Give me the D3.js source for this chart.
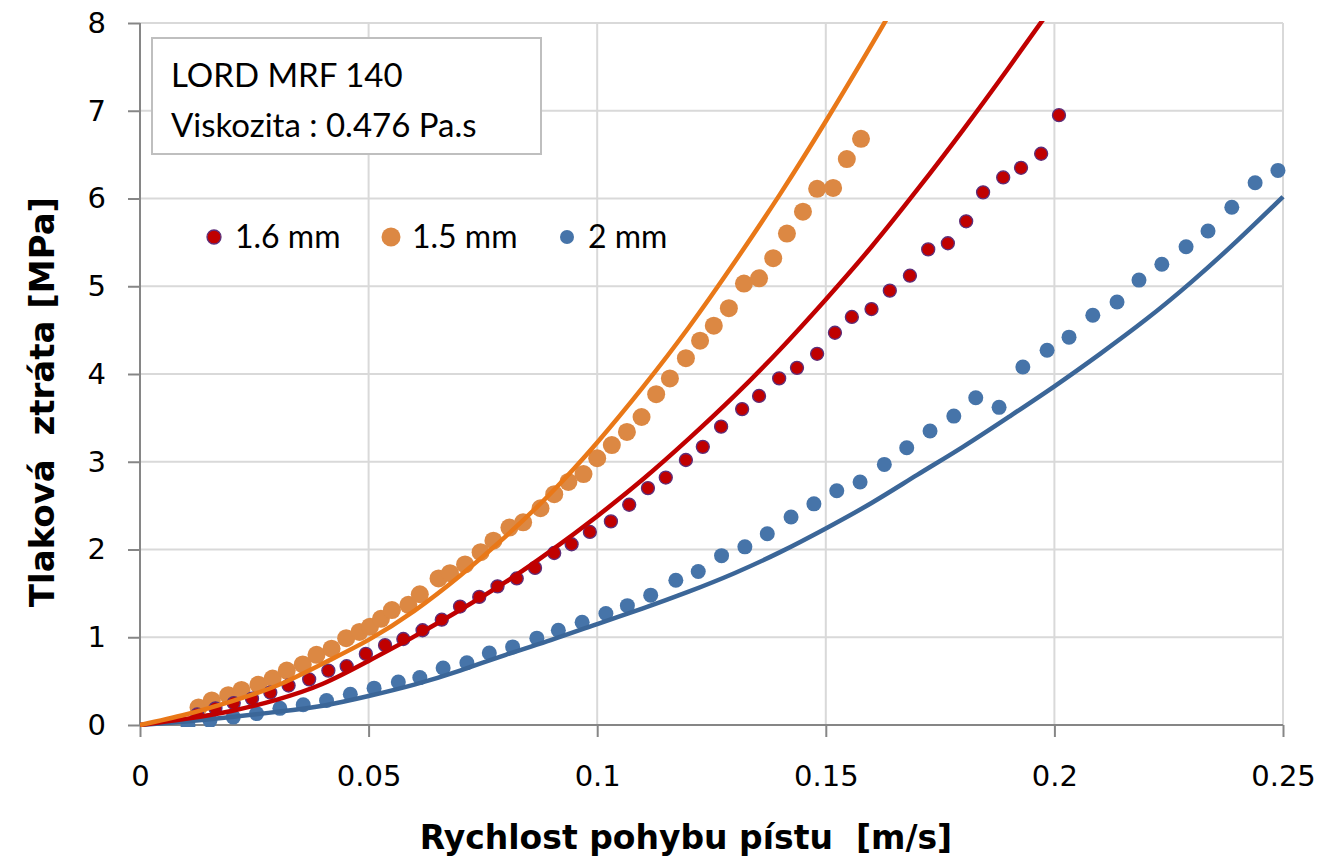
<!DOCTYPE html>
<html>
<head>
<meta charset="utf-8">
<script src="https://cdn.jsdelivr.net/npm/d3@7"></script>
<style>
  html, body { margin: 0; padding: 0; background: #fff; }
  svg text { white-space: pre; }
</style>
</head>
<body>
<svg id="chart" width="1322" height="863"></svg>
<script>
// ---------------- DATA ----------------
const xTicks = [0, 0.05, 0.1, 0.15, 0.2, 0.25];
const xTickLabels = ["0", "0.05", "0.1", "0.15", "0.2", "0.25"];
const yTicks = [0, 1, 2, 3, 4, 5, 6, 7, 8];
const yTickLabels = ["0", "1", "2", "3", "4", "5", "6", "7", "8"];

const legendLabels = ["1.6 mm", "1.5 mm", "2 mm"];
const noteLines = ["LORD MRF 140", "Viskozita : 0.476 Pa.s"];
const xTitle = "Rychlost pohybu pístu  [m/s]";
const yTitle = "Tlaková  ztráta [MPa]";

// measured points, 1.6 mm (red)
const red16X = [0.0125,0.0165,0.0205,0.0245,0.0285,0.0325,0.0370,0.0412,0.0452,0.0494,0.0536,0.0576,0.0618,0.0660,0.0700,0.0742,0.0782,0.0824,0.0864,0.0906,0.0944,0.0984,0.1030,0.1070,0.1111,0.1150,0.1194,0.1231,0.1271,0.1317,0.1354,0.1398,0.1437,0.1481,0.1520,0.1557,0.1600,0.1640,0.1684,0.1724,0.1767,0.1807,0.1844,0.1888,0.1927,0.1971,0.2010];
const red16Y = [0.12,0.19,0.25,0.30,0.37,0.45,0.52,0.62,0.67,0.81,0.91,0.98,1.08,1.20,1.35,1.46,1.58,1.67,1.79,1.96,2.06,2.20,2.32,2.51,2.70,2.82,3.02,3.17,3.40,3.60,3.75,3.95,4.07,4.23,4.47,4.65,4.74,4.95,5.12,5.42,5.49,5.74,6.07,6.24,6.35,6.51,6.95];

// measured points, 1.5 mm (orange)
const org15X = [0.0128,0.0157,0.0193,0.0222,0.0259,0.0290,0.0321,0.0356,0.0386,0.0419,0.0451,0.0480,0.0503,0.0527,0.0551,0.0587,0.0612,0.0653,0.0678,0.0711,0.0745,0.0773,0.0808,0.0838,0.0876,0.0906,0.0937,0.0970,0.1000,0.1032,0.1065,0.1097,0.1129,0.1159,0.1194,0.1225,0.1255,0.1288,0.1321,0.1354,0.1385,0.1415,0.1450,0.1481,0.1516,0.1546,0.1577];
const org15Y = [0.20,0.28,0.34,0.40,0.46,0.53,0.62,0.69,0.80,0.87,0.99,1.06,1.12,1.21,1.31,1.37,1.49,1.67,1.73,1.83,1.97,2.10,2.25,2.31,2.47,2.63,2.77,2.86,3.04,3.19,3.34,3.51,3.77,3.95,4.18,4.38,4.55,4.75,5.03,5.09,5.32,5.60,5.85,6.11,6.12,6.45,6.68];

// measured points, 2 mm (blue)
const blu2X = [0.0105,0.0153,0.0204,0.0255,0.0306,0.0357,0.0408,0.0460,0.0512,0.0565,0.0612,0.0663,0.0715,0.0764,0.0815,0.0868,0.0915,0.0967,0.1019,0.1066,0.1117,0.1172,0.1221,0.1272,0.1323,0.1372,0.1424,0.1474,0.1524,0.1575,0.1628,0.1677,0.1728,0.1780,0.1828,0.1879,0.1931,0.1984,0.2032,0.2084,0.2137,0.2185,0.2235,0.2288,0.2336,0.2388,0.2439,0.2489];
const blu2Y = [0.00,0.05,0.09,0.13,0.19,0.23,0.28,0.35,0.42,0.49,0.54,0.65,0.71,0.82,0.89,0.99,1.08,1.17,1.27,1.36,1.48,1.65,1.75,1.93,2.03,2.18,2.37,2.52,2.67,2.77,2.97,3.16,3.35,3.52,3.73,3.62,4.08,4.27,4.42,4.67,4.82,5.07,5.25,5.45,5.63,5.90,6.18,6.32];

// model curves
const fitOrgX = [0,0.01,0.02,0.03,0.04,0.05,0.06,0.07,0.08,0.09,0.10,0.11,0.12,0.13,0.14,0.15,0.16,0.165];
const fitOrgY = [0,0.12,0.27,0.45,0.70,0.97,1.30,1.70,2.15,2.65,3.22,3.85,4.53,5.27,6.05,6.88,7.75,8.20];
const fitRedX = [0,0.01,0.02,0.03,0.04,0.05,0.06,0.07,0.08,0.09,0.10,0.11,0.12,0.13,0.14,0.15,0.16,0.17,0.18,0.19,0.20];
const fitRedY = [0,0.07,0.16,0.29,0.47,0.73,1.01,1.31,1.63,1.99,2.38,2.80,3.26,3.75,4.28,4.85,5.45,6.10,6.78,7.49,8.22];
const fitBluX = [0,0.01,0.02,0.03,0.04,0.05,0.06,0.07,0.08,0.09,0.10,0.11,0.12,0.13,0.14,0.15,0.16,0.17,0.18,0.19,0.20,0.21,0.22,0.23,0.24,0.25];
const fitBluY = [0,0.04,0.09,0.15,0.22,0.33,0.46,0.62,0.80,0.97,1.15,1.33,1.52,1.73,1.97,2.24,2.53,2.85,3.17,3.51,3.86,4.23,4.62,5.05,5.52,6.02];

// ---------------- STYLE ----------------
const C = {
  red: "#c00000", redEdge: "#5d2f7a",
  orgDot: "#dc8843", orgLine: "#e97818",
  bluDot: "#4674a9", bluLine: "#3b6698",
  grid: "#d9d9d9", axis: "#868686"
};

const svg = d3.select("#chart");
const L = 140, R = 1283, T = 23, B = 725;
const x = d3.scaleLinear().domain([0, 0.25]).range([L, R]);
const y = d3.scaleLinear().domain([0, 8]).range([B, T]);

svg.append("rect").attr("width", 1322).attr("height", 863).attr("fill", "#fff");

// grid
const g = svg.append("g");
g.selectAll("line.hg").data(yTicks.filter(v => v > 0)).join("line")
  .attr("x1", L).attr("x2", R).attr("y1", d => y(d)).attr("y2", d => y(d))
  .attr("stroke", C.grid).attr("stroke-width", 2);
g.selectAll("line.vg").data(xTicks.filter(v => v > 0)).join("line")
  .attr("y1", T).attr("y2", B).attr("x1", d => x(d)).attr("x2", d => x(d))
  .attr("stroke", C.grid).attr("stroke-width", 2);

// axes
const yAxis = d3.axisLeft(y).tickValues(yTicks).tickFormat((d, i) => yTickLabels[i]).tickSize(12).tickPadding(22);
const xAxis = d3.axisBottom(x).tickValues(xTicks).tickFormat((d, i) => xTickLabels[i]).tickSize(12).tickPadding(28);
const ya = svg.append("g").attr("transform", `translate(${L},0)`).call(yAxis);
const xa = svg.append("g").attr("transform", `translate(0,${B})`).call(xAxis);
[ya, xa].forEach(a => {
  a.select(".domain").attr("stroke", C.axis).attr("stroke-width", 2);
  a.selectAll(".tick line").attr("stroke", C.axis).attr("stroke-width", 2);
  a.selectAll(".tick text").attr("fill", "#000")
    .style("font-family", "'DejaVu Sans', Verdana, sans-serif").style("font-size", "29px");
});
ya.select(".domain").attr("d", `M0,${T}V${B}`);
xa.select(".domain").attr("d", `M${L},0H${R}`);
xa.selectAll(".tick text").attr("dy", "0.71em");

// clip
svg.append("clipPath").attr("id", "plotclip").append("rect")
  .attr("x", L).attr("y", T - 2).attr("width", R - L + 4).attr("height", B - T + 4);

const plot = svg.append("g").attr("clip-path", "url(#plotclip)");

function pts(xs, ys) { return xs.map((v, i) => [v, ys[i]]); }

// dots
plot.append("g").selectAll("circle").data(pts(org15X, org15Y)).join("circle")
  .attr("cx", d => x(d[0])).attr("cy", d => y(d[1])).attr("r", 9).attr("fill", C.orgDot);
plot.append("g").selectAll("circle").data(pts(red16X, red16Y)).join("circle")
  .attr("cx", d => x(d[0])).attr("cy", d => y(d[1])).attr("r", 6.5).attr("fill", C.red)
  .attr("stroke", C.redEdge).attr("stroke-width", 1.3);
plot.append("g").selectAll("circle").data(pts(blu2X, blu2Y)).join("circle")
  .attr("cx", d => x(d[0])).attr("cy", d => y(d[1])).attr("r", 7.5).attr("fill", C.bluDot);

// fitted lines
const line = d3.line().x(d => x(d[0])).y(d => y(d[1])).curve(d3.curveNatural);
plot.append("path").attr("d", line(pts(fitBluX, fitBluY))).attr("fill", "none")
  .attr("stroke", C.bluLine).attr("stroke-width", 4.5);
plot.append("path").attr("d", line(pts(fitRedX, fitRedY))).attr("fill", "none")
  .attr("stroke", C.red).attr("stroke-width", 4.5);
plot.append("path").attr("d", line(pts(fitOrgX, fitOrgY))).attr("fill", "none")
  .attr("stroke", C.orgLine).attr("stroke-width", 4.5);

// note box
svg.append("rect").attr("x", 152).attr("y", 38).attr("width", 389).attr("height", 116)
  .attr("fill", "#fff").attr("stroke", "#bfbfbf").attr("stroke-width", 2);
svg.selectAll("text.note").data(noteLines).join("text")
  .attr("x", 171).attr("y", (d, i) => 87 + i * 50)
  .style("font-family", "Lato, 'Open Sans', sans-serif").style("font-size", "33px")
  .attr("fill", "#000").text(d => d);

// legend
const legendColors = [C.red, C.orgDot, C.bluDot];
const legendDotX = [214, 391, 567];
const legendR = [7, 9.5, 7];
const lg = svg.append("g");
legendLabels.forEach((lab, i) => {
  lg.append("circle").attr("cx", legendDotX[i]).attr("cy", 237).attr("r", legendR[i])
    .attr("fill", legendColors[i])
    .attr("stroke", i === 0 ? C.redEdge : "none").attr("stroke-width", 1.3);
  lg.append("text").attr("x", legendDotX[i] + 21).attr("y", 248)
    .style("font-family", "Lato, 'Open Sans', sans-serif").style("font-size", "32px")
    .attr("fill", "#000").text(lab);
});

// axis titles
svg.append("text").attr("x", 686).attr("y", 849).attr("text-anchor", "middle")
  .style("font-family", "'DejaVu Sans', Verdana, sans-serif").style("font-size", "33px")
  .style("font-weight", "bold").attr("fill", "#000").text(xTitle);
svg.append("text").attr("transform", "translate(54,402) rotate(-90)").attr("text-anchor", "middle")
  .style("font-family", "'DejaVu Sans', Verdana, sans-serif").style("font-size", "34px")
  .style("font-weight", "bold").attr("fill", "#000").text(yTitle);
</script>
</body>
</html>
